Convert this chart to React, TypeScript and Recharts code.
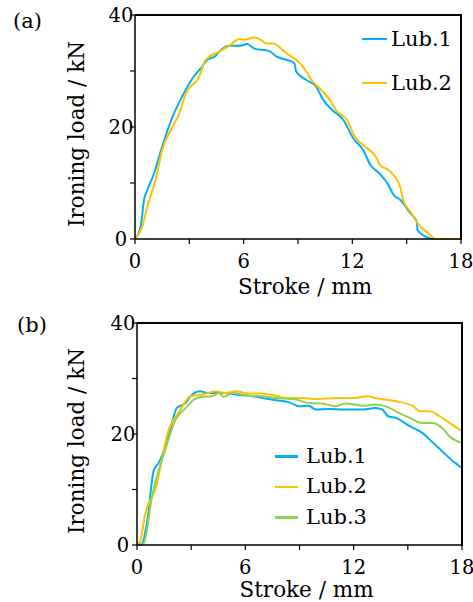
import { LineChart, Line, XAxis, YAxis, Legend, Label } from 'recharts';

const FONT = 'DejaVu Serif, serif';

const BLUE = '#00b0f0';
const ORANGE = '#ffc000';
const GREEN = '#92d050';

const strokeTicks = [0, 3, 6, 9, 12, 15, 18];
const loadTicks = [0, 10, 20, 30, 40];

// (a) stroke [mm], load [kN]
const lub1A: [number, number][] = [
  [0, 0], [0.31, 2.2], [0.5, 7], [0.68, 8.75], [1.05, 11.7], [1.5, 16.5], [2.07, 21.8],
  [2.6, 25.4], [3.18, 28.7], [3.64, 30.5], [4.0, 32], [4.4, 32.6], [4.66, 33.5], [5.2, 34.5],
  [5.77, 34.5], [6.2, 34.8], [6.6, 34], [7.4, 33.6], [7.8, 32.6], [8.35, 32], [8.8, 31.4],
  [8.9, 29.9], [9.46, 28.4], [10.0, 27.2], [10.4, 24.8], [10.9, 23], [11.5, 21.3], [12.05, 18],
  [12.6, 15.9], [13.0, 13.2], [13.5, 11.7], [14.0, 9.6], [14.27, 7.9], [14.64, 7], [15.2, 4.6],
  [15.56, 3.1], [15.6, 1.6], [15.9, 0.7], [16.3, 0.1], [16.7, 0], [18, 0],
];
const lub2A: [number, number][] = [
  [0, 0], [0.4, 2.2], [0.68, 5.8], [1.15, 10.8], [1.5, 15.9], [2.07, 20], [2.44, 22.4],
  [2.81, 26], [3.55, 29], [3.9, 32], [4.66, 33.5], [5.2, 34.5], [5.77, 35.7], [6.04, 35.6],
  [6.6, 36], [6.97, 35.5], [7.25, 34.9], [7.6, 34.9], [8.35, 33.2], [9.1, 31.4], [9.46, 29.9],
  [9.74, 28.4], [10.2, 26.9], [10.76, 24.8], [11.1, 23], [11.7, 21.3], [12.14, 18.3],
  [12.6, 16.8], [13.35, 14.4], [13.53, 13.2], [14.0, 12.3], [14.64, 9.3], [14.8, 7],
  [15.2, 4.9], [15.75, 2.2], [16.2, 1], [16.6, 0], [18, 0],
];

// (b)
const lub1B: [number, number][] = [
  [0, 0], [0.28, 0.3], [0.55, 3.9], [0.93, 13.5], [1.2, 14.8], [1.57, 17.8], [1.94, 22],
  [2.2, 24.7], [2.7, 25.6], [2.96, 26.8], [3.5, 27.7], [3.9, 27.4], [4.35, 27.4], [4.9, 27.4],
  [5.46, 27.1], [6.2, 26.9], [6.94, 26.5], [7.7, 26.1], [8.43, 25.7], [9.0, 25], [9.5, 25.1],
  [9.9, 24.4], [10.65, 24.5], [11.4, 24.4], [12.5, 24.4], [13.2, 24.7], [13.6, 24.4],
  [13.9, 23.2], [14.35, 22.9], [15.1, 21.4], [15.8, 20.2], [16.4, 18.4], [16.9, 16.9],
  [17.5, 15.1], [18, 13.9],
];
const lub2B: [number, number][] = [
  [0, 0], [0.19, 0.9], [0.46, 5.7], [1.0, 9.9], [1.76, 20.8], [2.3, 23.8], [2.96, 26.8],
  [3.6, 27.1], [4.35, 27.7], [4.9, 27.4], [5.46, 27.7], [6.2, 27.3], [6.94, 27.3], [7.7, 26.9],
  [8.24, 26.5], [9.17, 26.5], [9.9, 26.3], [11.0, 26.5], [12.1, 26.5], [12.8, 26.8],
  [13.2, 26.5], [14.35, 25.9], [15.3, 25], [15.65, 24.1], [16.2, 24.1], [16.76, 23.2],
  [17.3, 22], [18, 20.5],
];
const lub3B: [number, number][] = [
  [0, 0], [0.37, 0.3], [0.83, 8.7], [1.57, 17.2], [2.13, 22.6], [2.7, 24.7], [3.15, 26.2],
  [3.6, 26.7], [4.17, 26.8], [4.54, 27.4], [4.8, 26.7], [5.28, 27.4], [6.2, 26.9], [6.94, 26.8],
  [7.7, 26.5], [8.8, 26.2], [9.5, 25.6], [10.28, 25.5], [11.0, 25], [11.57, 25.5], [12.5, 25.1],
  [13.2, 25.3], [13.98, 24.7], [14.5, 23.8], [15.1, 22.9], [15.8, 22], [16.4, 22], [16.9, 21.1],
  [17.3, 19.6], [18, 18.4],
];

const toPoints = (arr: [number, number][]) => arr.map(([x, y]) => ({ x, y }));

const axisLine = { stroke: '#000', strokeWidth: 1.5 };

const XTick = (props: any) => {
  const { x, y, payload } = props;
  if (payload.value % 6 !== 0) return <g />;
  return (
    <text x={x} y={y} dy={22} textAnchor="middle" fontSize={19.5} fontFamily={FONT} fill="#000">
      {payload.value}
    </text>
  );
};

const YTick = (props: any) => {
  const { x, y, payload } = props;
  if (payload.value % 20 !== 0) return <g />;
  return (
    <text x={x - 7} y={y} dy={7} textAnchor="middle" fontSize={19.5} fontFamily={FONT} fill="#000">
      {payload.value}
    </text>
  );
};

function makeLegend(rowH: number, swatch: number, gap: number) {
  return (props: any) => (
    <div style={{ fontFamily: FONT, fontSize: 21, color: '#000' }}>
      {(props.payload || []).map((p: any) => (
        <div key={p.value} style={{ display: 'flex', alignItems: 'center', height: rowH }}>
          <span style={{ display: 'inline-block', width: swatch, height: 2.5, background: p.color, marginRight: gap }} />
          <span style={{ lineHeight: 1 }}>{p.value}</span>
        </div>
      ))}
    </div>
  );
}

const yTitle = (props: any) => {
  const { viewBox } = props;
  const cx = 84;
  const cy = viewBox.y + viewBox.height / 2 + 7;
  return (
    <text x={cx} y={cy} transform={`rotate(-90, ${cx}, ${cy})`} textAnchor="middle"
      fontSize={21.5} fontFamily={FONT} fill="#000">
      Ironing load / kN
    </text>
  );
};

const makeXTitle = (offset: number) => (props: any) => {
  const { viewBox } = props;
  return (
    <text x={viewBox.x + viewBox.width / 2 + 7} y={viewBox.y + offset} textAnchor="middle"
      fontSize={21.5} fontFamily={FONT} fill="#000">
      Stroke / mm
    </text>
  );
};

function Panel({ height, margin, yWidth, xHeight, titleOffset, series, legendTop, legendLeft, legend }: any) {
  const plotW = 473 - margin.right - yWidth;
  const plotH = height - margin.top - xHeight;
  return (
    <div style={{ position: 'relative', width: 473, height }}>
      <LineChart width={473} height={height} margin={margin}>
        <XAxis dataKey="x" type="number" domain={[0, 18]} ticks={strokeTicks} allowDuplicatedCategory={false}
          height={xHeight} axisLine={axisLine} tickLine={{ stroke: '#000', strokeWidth: 1.2 }} tickSize={5}
          tickMargin={2} tick={<XTick />} interval={0}>
          <Label content={makeXTitle(titleOffset)} />
        </XAxis>
        <YAxis type="number" domain={[0, 40]} ticks={loadTicks} width={yWidth} axisLine={axisLine}
          tickLine={{ stroke: '#000', strokeWidth: 1.2 }} tickSize={5} tickMargin={2} tick={<YTick />} interval={0}>
          <Label content={yTitle} />
        </YAxis>
        {series.map((s: any) => (
          <Line key={s.name} name={s.name} data={toPoints(s.data)} dataKey="y" stroke={s.color} strokeWidth={2}
            dot={false} type="monotone" isAnimationActive={false} />
        ))}
        <Legend layout="vertical" align="center" verticalAlign="middle" content={legend}
          wrapperStyle={{ position: 'absolute', top: legendTop, left: legendLeft, width: 'auto' }} />
      </LineChart>
      {/* top and right edges of the plot frame */}
      <div style={{
        position: 'absolute', left: yWidth, top: margin.top - 1, width: plotW - 1, height: plotH,
        borderTop: '2px solid #000', borderRight: '2px solid #000', pointerEvents: 'none', zIndex: 5,
      }} />
    </div>
  );
}

export default function App() {
  return (
    <div style={{ position: 'absolute', left: 0, top: 0, width: 473, height: 602, background: '#fff', fontFamily: FONT }}>
      <div style={{ position: 'absolute', left: 13, top: 9, fontSize: 21 }}>(a)</div>
      <div style={{ position: 'absolute', left: 17, top: 313, fontSize: 21 }}>(b)</div>
      <div style={{ position: 'absolute', left: 0, top: 0 }}>
        <Panel
          height={300}
          margin={{ top: 15, right: 12, bottom: 0, left: 0 }}
          yWidth={135}
          xHeight={61}
          titleOffset={55}
          series={[
            { name: 'Lub.1', data: lub1A, color: BLUE },
            { name: 'Lub.2', data: lub2A, color: ORANGE },
          ]}
          legendTop={17}
          legendLeft={362}
          legend={makeLegend(44, 25, 4)}
        />
      </div>
      <div style={{ position: 'absolute', left: 0, top: 300 }}>
        <Panel
          height={302}
          margin={{ top: 23, right: 11, bottom: 0, left: 0 }}
          yWidth={137}
          xHeight={57}
          titleOffset={52}
          series={[
            { name: 'Lub.1', data: lub1B, color: BLUE },
            { name: 'Lub.2', data: lub2B, color: ORANGE },
            { name: 'Lub.3', data: lub3B, color: GREEN },
          ]}
          legendTop={141}
          legendLeft={275}
          legend={makeLegend(30.5, 23, 8)}
        />
      </div>
    </div>
  );
}
